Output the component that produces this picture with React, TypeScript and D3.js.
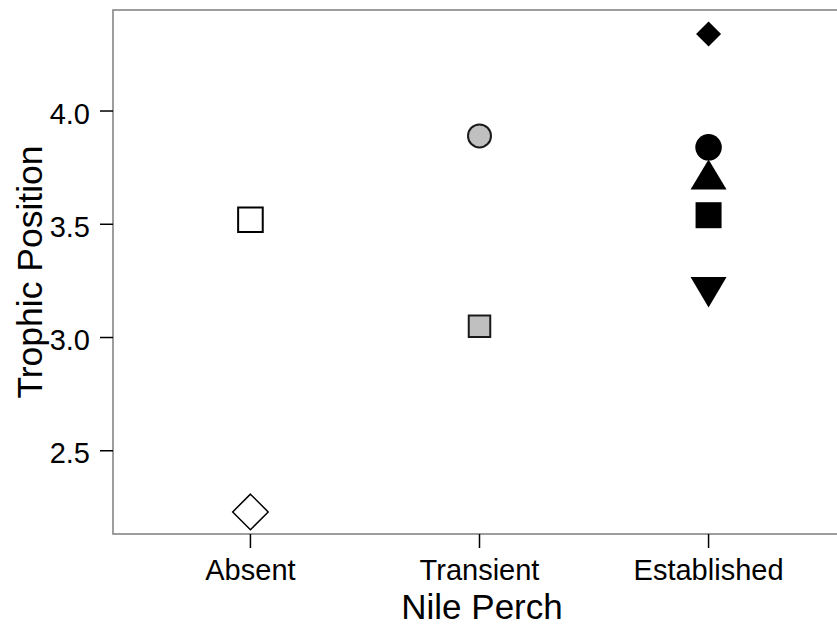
import React from "react";
import * as d3 from "d3";

// Nile Perch status groups along the x axis
const categories = ["Absent", "Transient", "Established"];

// One entry per taxon: group, trophic position and marker key
const pointGroup = [
  "Absent", "Absent",
  "Transient", "Transient",
  "Established", "Established", "Established", "Established", "Established",
];
const pointValue = [3.52, 2.23, 3.89, 3.05, 4.34, 3.84, 3.72, 3.54, 3.2];
const pointMarker = [
  "openSquare", "openDiamond",
  "grayCircle", "graySquare",
  "blackDiamond", "blackCircle", "blackTriangleUp", "blackSquare", "blackTriangleDown",
];

const yTicks = [2.5, 3.0, 3.5, 4.0];

const W = 837;
const H = 626;
const frame = { left: 113, top: 10, right: 846, bottom: 534 };
const FONT = "Arial, 'Liberation Sans', Helvetica, sans-serif";

type MarkerStyle = {
  kind: "square" | "diamond" | "circle" | "triUp" | "triDown";
  size: number; // side, diagonal, diameter or triangle width
  height?: number;
  fill: string;
  stroke: string;
  strokeWidth: number;
};

const markerStyles: Record<string, MarkerStyle> = {
  openSquare: { kind: "square", size: 24.6, fill: "#ffffff", stroke: "#000", strokeWidth: 2 },
  openDiamond: { kind: "diamond", size: 35.5, fill: "#ffffff", stroke: "#000", strokeWidth: 1.5 },
  grayCircle: { kind: "circle", size: 23, fill: "#c0c0c0", stroke: "#1a1a1a", strokeWidth: 2 },
  graySquare: { kind: "square", size: 21.5, fill: "#c0c0c0", stroke: "#1a1a1a", strokeWidth: 2 },
  blackDiamond: { kind: "diamond", size: 25, fill: "#000", stroke: "none", strokeWidth: 0 },
  blackCircle: { kind: "circle", size: 26.5, fill: "#000", stroke: "none", strokeWidth: 0 },
  blackTriangleUp: { kind: "triUp", size: 36, height: 30, fill: "#000", stroke: "none", strokeWidth: 0 },
  blackSquare: { kind: "square", size: 26, fill: "#000", stroke: "none", strokeWidth: 0 },
  blackTriangleDown: { kind: "triDown", size: 36, height: 30.5, fill: "#000", stroke: "none", strokeWidth: 0 },
};

function markerPath(s: MarkerStyle): string {
  const p = d3.path();
  const h = s.size / 2;
  switch (s.kind) {
    case "square":
      p.rect(-h, -h, s.size, s.size);
      break;
    case "diamond":
      p.moveTo(0, -h);
      p.lineTo(h, 0);
      p.lineTo(0, h);
      p.lineTo(-h, 0);
      p.closePath();
      break;
    case "circle":
      p.arc(0, 0, h, 0, 2 * Math.PI);
      p.closePath();
      break;
    case "triUp": {
      const th = (s.height ?? s.size) / 2;
      p.moveTo(0, -th);
      p.lineTo(h, th);
      p.lineTo(-h, th);
      p.closePath();
      break;
    }
    case "triDown": {
      const th = (s.height ?? s.size) / 2;
      p.moveTo(-h, -th);
      p.lineTo(h, -th);
      p.lineTo(0, th);
      p.closePath();
      break;
    }
  }
  return p.toString();
}

export default function App() {
  const x = d3
    .scalePoint<string>()
    .domain(categories)
    .range([frame.left, frame.right])
    .padding(0.6);

  const y = d3
    .scaleLinear()
    .domain([2.1325, 4.446])
    .range([frame.bottom, frame.top]);

  const plotMidY = (frame.top + frame.bottom) / 2;

  return (
    <svg
      width={W}
      height={H}
      viewBox={`0 0 ${W} ${H}`}
      style={{ position: "absolute", left: 0, top: 0, background: "#fff" }}
      fontFamily={FONT}
    >
      <rect x={0} y={0} width={W} height={H} fill="#ffffff" />

      {/* plot frame */}
      <rect
        x={frame.left}
        y={frame.top}
        width={frame.right - frame.left}
        height={frame.bottom - frame.top}
        fill="none"
        stroke="#858585"
        strokeWidth={1.6}
      />

      {/* y axis ticks and labels */}
      {yTicks.map((t) => (
        <g key={t}>
          <line
            x1={frame.left - 13}
            x2={frame.left}
            y1={y(t)}
            y2={y(t)}
            stroke="#000"
            strokeWidth={1.5}
          />
          <text
            x={frame.left - 23}
            y={y(t) + 12.5}
            textAnchor="end"
            fontSize={29}
            fill="#000"
          >
            {d3.format(".1f")(t)}
          </text>
        </g>
      ))}

      {/* x axis ticks and labels */}
      {categories.map((c) => (
        <g key={c}>
          <line
            x1={x(c)!}
            x2={x(c)!}
            y1={frame.bottom}
            y2={frame.bottom + 14}
            stroke="#000"
            strokeWidth={1.5}
          />
          <text x={x(c)!} y={580} textAnchor="middle" fontSize={29} fill="#000">
            {c}
          </text>
        </g>
      ))}

      {/* axis titles */}
      <text x={482} y={619} textAnchor="middle" fontSize={35} fill="#000">
        Nile Perch
      </text>
      <text
        transform={`translate(42,${plotMidY}) rotate(-90)`}
        textAnchor="middle"
        fontSize={35.5}
        fill="#000"
      >
        Trophic Position
      </text>

      {/* data points */}
      {pointValue.map((v, i) => {
        const s = markerStyles[pointMarker[i]];
        return (
          <path
            key={i}
            d={markerPath(s)}
            transform={`translate(${x(pointGroup[i])},${y(v)})`}
            fill={s.fill}
            stroke={s.stroke}
            strokeWidth={s.strokeWidth}
          />
        );
      })}
    </svg>
  );
}
